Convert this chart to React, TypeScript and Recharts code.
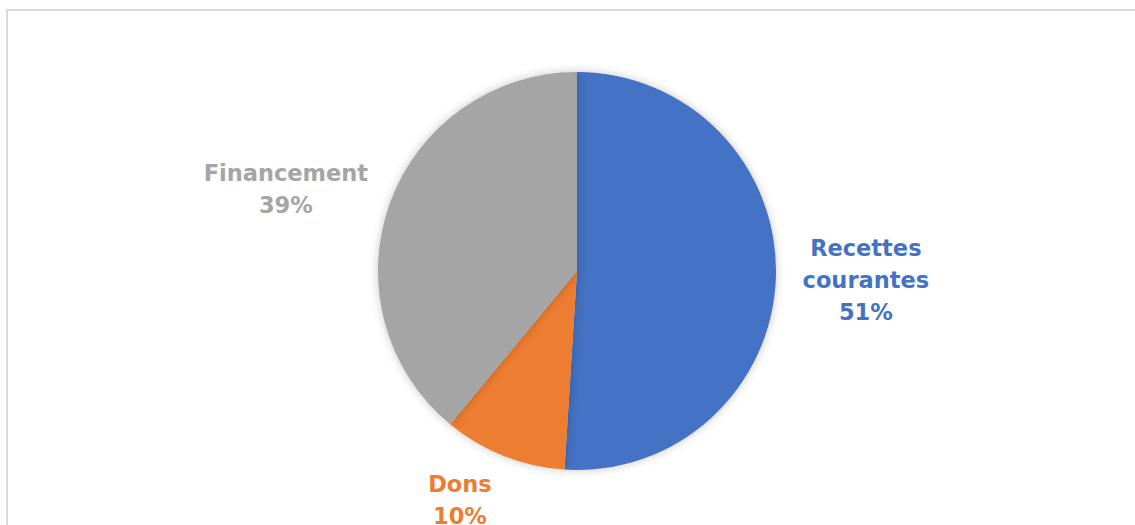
import { PieChart, Pie, Cell } from 'recharts'

const categories = ['Recettes courantes', 'Dons', 'Financement']
const shares = [51, 10, 39]
const colors = ['#4472C4', '#ED7D31', '#A5A5A5']

// label placement tweaks per slice: distance from centre, then nudge
const labelDist = [289, 250, 302]
const labelNudge = [[0, 0], [-25, -4], [-7, 20]]

const data = categories.map((name, i) => ({ name, value: shares[i] }))

const RADIAN = Math.PI / 180
const FONT = 22.5
const LINE_H = 32

function renderLabel(props: any) {
  const { cx, cy, midAngle, percent, index, name } = props
  const r = labelDist[index]
  const x = cx + r * Math.cos(-midAngle * RADIAN) + labelNudge[index][0]
  const y = cy + r * Math.sin(-midAngle * RADIAN) + labelNudge[index][1]
  const lines = [...String(name).split(' '), `${Math.round(percent * 100)}%`]
  const firstY = y - ((lines.length - 1) * LINE_H) / 2 + FONT * 0.36
  return (
    <text
      x={x}
      y={firstY}
      textAnchor="middle"
      fill={colors[index]}
      fontFamily="'DejaVu Sans', sans-serif"
      fontWeight="bold"
      fontSize={FONT}
    >
      {lines.map((l, k) => (
        <tspan key={k} x={x} dy={k === 0 ? 0 : LINE_H}>
          {l}
        </tspan>
      ))}
    </text>
  )
}

export default function App() {
  return (
    <div style={{ position: 'absolute', left: 0, top: 0, width: 1135, height: 525, overflow: 'hidden', background: '#fff' }}>
      <div
        style={{
          position: 'absolute',
          left: 6,
          top: 9,
          width: 1200,
          height: 600,
          border: '2px solid #d9d9d9'
        }}
      />
      <div style={{ position: 'absolute', left: 0, top: 0 }}>
        <PieChart width={1135} height={525} margin={{ top: 0, right: 0, bottom: 0, left: 0 }}>
          <Pie
            data={data}
            dataKey="value"
            nameKey="name"
            cx={577}
            cy={271}
            outerRadius={199}
            startAngle={90}
            endAngle={-270}
            stroke="none"
            label={renderLabel}
            labelLine={false}
            isAnimationActive={false}
          >
            {data.map((d, i) => (
              <Cell
                key={d.name}
                fill={colors[i]}
                style={{ filter: 'drop-shadow(0px 0px 5px rgba(0,0,0,0.22))' }}
              />
            ))}
          </Pie>
        </PieChart>
      </div>
    </div>
  )
}
